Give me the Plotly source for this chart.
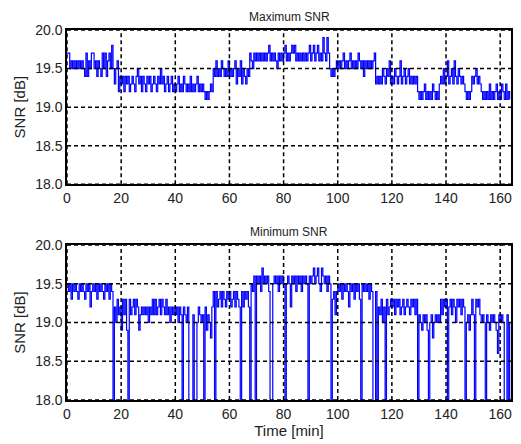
import plotly.graph_objects as go

# time axis: one sample every 0.5 min, 0 .. 163.5 min
time_min = [i * 0.5 for i in range(328)]

# Maximum SNR [dB] (0.5 min steps)
max_snr = [
    19.7,19.7,19.5,19.6,19.5,19.6,19.5,19.6,19.5,19.6, 19.5,19.6,19.5,19.4,19.7,19.4,19.6,19.5,19.7,19.7,
    19.5,19.6,19.4,19.6,19.5,19.4,19.7,19.5,19.7,19.4, 19.6,19.7,19.5,19.8,19.5,19.3,19.5,19.6,19.2,19.4,
    19.3,19.4,19.2,19.4,19.3,19.4,19.2,19.3,19.4,19.3, 19.2,19.4,19.5,19.3,19.4,19.2,19.4,19.3,19.2,19.4,
    19.3,19.4,19.2,19.3,19.4,19.3,19.2,19.4,19.3,19.5, 19.3,19.4,19.2,19.3,19.4,19.2,19.3,19.4,19.2,19.3,
    19.2,19.3,19.4,19.2,19.3,19.2,19.4,19.3,19.2,19.3, 19.2,19.4,19.2,19.3,19.2,19.3,19.4,19.2,19.3,19.2,
    19.3,19.2,19.1,19.2,19.1,19.2,19.3,19.2,19.5,19.4, 19.6,19.4,19.5,19.4,19.6,19.5,19.4,19.5,19.4,19.6,
    19.4,19.5,19.4,19.5,19.6,19.3,19.5,19.4,19.6,19.3, 19.5,19.4,19.3,19.5,19.4,19.7,19.6,19.5,19.7,19.6,
    19.7,19.6,19.7,19.6,19.7,19.6,19.7,19.6,19.7,19.8, 19.6,19.7,19.6,19.7,19.6,19.5,19.7,19.6,19.7,19.6,
    19.7,19.8,19.6,19.7,19.6,19.7,19.8,19.7,19.8,19.6, 19.7,19.6,19.7,19.6,19.7,19.6,19.7,19.6,19.7,19.8,
    19.6,19.7,19.8,19.6,19.7,19.8,19.6,19.7,19.6,19.9, 19.7,19.6,19.9,19.7,19.5,19.4,19.5,19.4,19.5,19.6,
    19.5,19.6,19.5,19.6,19.7,19.5,19.6,19.5,19.6,19.7, 19.5,19.6,19.5,19.6,19.5,19.7,19.6,19.5,19.6,19.4,
    19.6,19.5,19.6,19.5,19.6,19.5,19.6,19.7,19.3,19.4, 19.3,19.4,19.3,19.5,19.4,19.3,19.5,19.4,19.6,19.3,
    19.4,19.3,19.5,19.4,19.3,19.4,19.6,19.3,19.4,19.5, 19.3,19.4,19.5,19.3,19.4,19.3,19.4,19.3,19.4,19.2,
    19.1,19.2,19.1,19.2,19.3,19.1,19.2,19.1,19.2,19.1, 19.3,19.2,19.1,19.2,19.1,19.3,19.4,19.3,19.5,19.3,
    19.4,19.6,19.3,19.4,19.5,19.3,19.6,19.4,19.3,19.5, 19.4,19.3,19.4,19.3,19.2,19.1,19.2,19.1,19.2,19.4,
    19.3,19.4,19.5,19.3,19.4,19.3,19.2,19.1,19.2,19.1, 19.2,19.1,19.3,19.1,19.2,19.1,19.2,19.3,19.1,19.2,
    19.1,19.3,19.2,19.1,19.3,19.1,19.2,19.1,
]

# Minimum SNR [dB] (0.5 min steps); 17.5 = drop below the axis
min_snr = [
    19.5,19.4,19.5,19.3,19.5,19.4,19.5,19.4,19.3,19.5, 19.4,19.5,19.4,19.3,19.5,19.4,19.5,19.2,19.4,19.5,
    19.4,19.5,19.3,19.5,19.4,19.5,19.4,19.3,19.5,19.4, 19.5,19.3,19.5,19.4,17.5,19.2,19.0,19.3,19.1,19.2,
    18.9,19.3,19.1,19.3,18.9,17.5,19.3,19.1,19.2,19.3, 19.1,19.3,19.2,18.9,19.1,19.2,19.1,19.2,19.1,19.2,
    19.0,19.2,19.1,19.3,19.1,19.3,19.1,19.2,19.3,19.1, 19.3,19.2,19.1,19.3,19.1,19.2,19.0,19.2,19.1,19.2,
    19.1,19.2,19.0,19.2,19.1,17.5,19.2,19.1,19.0,19.2, 17.5,17.5,17.5,19.1,17.5,17.5,19.0,19.2,19.1,19.0,
    19.1,17.5,19.2,18.9,19.1,19.0,18.8,19.2,19.4,17.5, 19.4,19.2,19.3,19.4,19.2,19.4,19.3,19.2,19.4,19.3,
    19.4,19.2,19.3,19.4,19.2,19.4,19.3,19.2,17.5,19.4, 19.2,19.4,19.3,19.4,19.2,17.5,19.5,19.4,19.6,17.5,
    19.6,19.5,19.6,19.4,19.7,19.5,19.6,19.5,19.6,19.4, 17.5,17.5,19.5,19.6,19.5,19.6,19.4,19.6,19.5,19.6,
    19.5,17.5,19.5,19.6,19.5,19.2,19.6,19.5,19.6,19.4, 19.6,19.5,19.6,19.4,19.6,19.5,19.6,19.5,17.5,19.6,
    19.5,19.6,19.7,19.5,19.6,19.7,19.5,19.4,19.7,19.6, 19.5,19.6,19.4,19.6,19.5,17.5,19.3,19.4,19.1,19.4,
    19.5,19.4,19.5,19.3,19.5,19.4,19.5,19.4,19.2,19.5, 19.4,19.5,19.3,19.5,19.4,19.5,19.3,17.5,19.5,19.4,
    19.5,19.4,19.5,19.3,19.5,19.4,17.5,17.5,19.4,17.5, 19.2,19.1,19.3,19.0,19.2,17.5,19.3,19.1,19.2,19.3,
    19.2,19.3,19.1,19.3,19.2,19.3,19.1,19.2,19.3,19.1, 19.2,19.3,19.2,19.1,19.3,19.2,19.3,19.1,19.3,17.5,
    19.1,19.0,18.9,19.1,19.0,19.1,18.9,17.5,19.0,19.1, 18.8,19.0,19.1,19.0,19.1,19.0,19.3,19.1,19.3,19.2,
    19.3,17.5,19.2,19.3,19.1,19.3,19.2,19.0,19.3,19.2, 19.3,19.1,19.3,19.2,17.5,19.0,19.1,18.9,19.1,19.3,
    19.1,17.5,19.3,19.2,19.3,19.1,19.0,19.1,19.0,17.5, 19.1,19.0,18.9,19.1,19.0,19.1,19.0,18.9,18.6,19.1,
    19.0,19.1,19.0,17.5,17.5,19.1,17.5,19.0,
]

x_ticks = [0, 20, 40, 60, 80, 100, 120, 140, 160]
y_ticks = [18.0, 18.5, 19.0, 19.5, 20.0]
x_range = [0, 164]
y_range = [18.0, 20.0]
titles = ["Maximum SNR", "Minimum SNR"]

FONT = "Liberation Sans, Arial, Helvetica, sans-serif"

fig = go.Figure()
fig.add_trace(go.Scatter(x=time_min, y=max_snr, mode="lines",
                         line=dict(color="#0000ff", width=1.2, shape="hv"), xaxis="x", yaxis="y",
                         showlegend=False, hoverinfo="skip"))
fig.add_trace(go.Scatter(x=time_min, y=min_snr, mode="lines",
                         line=dict(color="#0000ff", width=1.2, shape="hv"), xaxis="x2", yaxis="y2",
                         showlegend=False, hoverinfo="skip"))

axis_common = dict(showgrid=False, zeroline=False, showline=True, linecolor="black",
                   linewidth=1.5, mirror=True, ticks="", tickfont=dict(size=14, color="#222"),
                   fixedrange=True)

top_dom = [0.583, 1.0]
bot_dom = [0.0, 0.419]

fig.update_layout(
    width=521, height=444,
    margin=dict(l=67, r=8, t=30, b=42),
    paper_bgcolor="white", plot_bgcolor="white",
    font=dict(family=FONT, color="#222"),
    xaxis=dict(domain=[0, 1], range=x_range, tickvals=x_ticks, anchor="y", **axis_common),
    yaxis=dict(domain=top_dom, range=y_range, tickvals=y_ticks, tickformat=".1f", anchor="x",
               title=dict(text="SNR [dB]", font=dict(size=15), standoff=6), **axis_common),
    xaxis2=dict(domain=[0, 1], range=x_range, tickvals=x_ticks, anchor="y2",
                title=dict(text="Time [min]", font=dict(size=15), standoff=4), **axis_common),
    yaxis2=dict(domain=bot_dom, range=y_range, tickvals=y_ticks, tickformat=".1f", anchor="x2",
                title=dict(text="SNR [dB]", font=dict(size=15), standoff=6), **axis_common),
)

# dashed grid drawn above the data, as in the reference
shapes = []
for xa, ya in (("x", "y"), ("x2", "y2")):
    for xv in x_ticks:
        shapes.append(dict(type="line", xref=xa, yref=f"{ya} domain", x0=xv, x1=xv, y0=0, y1=1,
                           line=dict(color="black", width=1.5, dash="4px,3px"), layer="above"))
    for yv in y_ticks:
        shapes.append(dict(type="line", xref=f"{xa} domain", yref=ya, x0=0, x1=1, y0=yv, y1=yv,
                           line=dict(color="black", width=1.5, dash="4px,3px"), layer="above"))
fig.update_layout(shapes=shapes)

fig.add_annotation(text=titles[0], xref="paper", yref="paper", x=0.5, y=top_dom[1],
                   yanchor="bottom", yshift=4, showarrow=False, font=dict(size=12, color="#222"))
fig.add_annotation(text=titles[1], xref="paper", yref="paper", x=0.5, y=bot_dom[1],
                   yanchor="bottom", yshift=4, showarrow=False, font=dict(size=12, color="#222"))

fig.write_html("out.html")
